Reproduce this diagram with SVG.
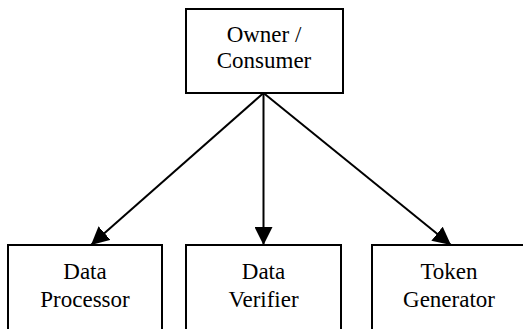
<svg xmlns="http://www.w3.org/2000/svg" width="523" height="329" viewBox="0 0 523 329">
<style>
.box{fill:#fff;stroke:#000;stroke-width:2}
.lbl{font-family:"Liberation Serif","Times New Roman",serif;font-size:23px;fill:#000;text-anchor:middle}
.edge{stroke:#000;stroke-width:2;fill:none}
</style>
<defs>
<marker id="ah" markerUnits="userSpaceOnUse" markerWidth="18" markerHeight="18" viewBox="0 0 16 16" refX="16" refY="8" orient="auto">
<path d="M0,0 L16,8 L0,16 Z" fill="#000"/>
</marker>
</defs>
<rect width="523" height="329" fill="#fff"/>
<g id="connectors">
<line class="edge" x1="263.5" y1="93" x2="91" y2="245" marker-end="url(#ah)"/>
<line class="edge" x1="263.5" y1="93" x2="263.5" y2="245" marker-end="url(#ah)"/>
<line class="edge" x1="263.5" y1="93" x2="451" y2="245" marker-end="url(#ah)"/>
</g>
<g id="owner">
<rect class="box" x="186" y="9" width="157" height="84"/>
<text class="lbl" x="264" y="42">Owner /</text>
<text class="lbl" x="264" y="68">Consumer</text>
</g>
<g id="processor">
<rect class="box" x="8" y="245" width="154" height="100"/>
<text class="lbl" x="85" y="279">Data</text>
<text class="lbl" x="85" y="307">Processor</text>
</g>
<g id="verifier">
<rect class="box" x="186" y="245" width="155" height="100"/>
<text class="lbl" x="263.5" y="279">Data</text>
<text class="lbl" x="263.5" y="307">Verifier</text>
</g>
<g id="token">
<rect class="box" x="372" y="245" width="156" height="100"/>
<text class="lbl" x="449" y="279">Token</text>
<text class="lbl" x="449" y="307">Generator</text>
</g>
</svg>
